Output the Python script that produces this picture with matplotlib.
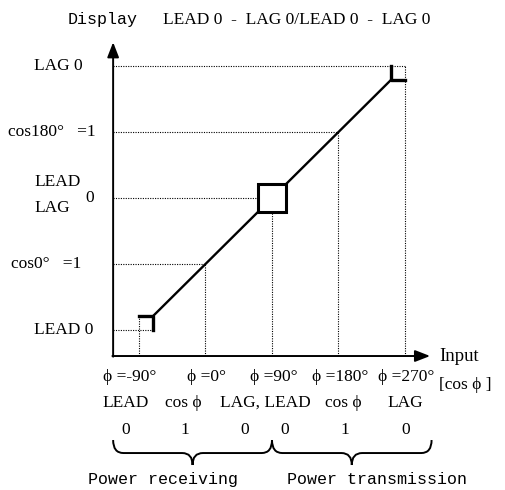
import matplotlib
matplotlib.use('Agg')
import matplotlib.pyplot as plt
from matplotlib.path import Path
from matplotlib.patches import PathPatch, Rectangle

# Input phase (deg) and the display level each one maps to
phase_deg = [-90, 0, 90, 180, 270]
display_level = [0, 1, 2, 3, 4]
level_labels = ['LEAD 0', 'cos0°   =1', '0', 'cos180°   =1', 'LAG 0']
phase_labels = ['ϕ =-90°', 'ϕ =0°', 'ϕ =90°', 'ϕ =180°', 'ϕ =270°']
pf_names = ['LEAD', 'cos ϕ', 'LAG, LEAD', 'cos ϕ', 'LAG']
pf_values = ['0', '1', '0', '0', '1', '0']
side_names = ['Power receiving', 'Power transmission']

dead = 19          # dead band at the ends / middle (deg)
x0, y0 = -125, -0.394   # axis origin

SERIF = 'Liberation Serif'
MONO = 'Liberation Mono'

fig = plt.figure(figsize=(5.06, 4.90), dpi=100)
ax = fig.add_axes([0, 0, 1, 1])
ax.set_xlim(-278.1, 406.7)
ax.set_ylim(-2.424, 5.0)
ax.set_axis_off()


def lvl(p):
    return (p + 90) / 90.0


# dotted guide lines
dot = dict(color='black', lw=0.8, linestyle=(0, (1, 1.2)))
h_stop = [phase_deg[0] + dead, phase_deg[1], phase_deg[2] - dead, phase_deg[3], phase_deg[4]]
v_stop = [lvl(phase_deg[0] + dead), 1, lvl(phase_deg[2] - dead), 3, 4]
for p, l, hs, vs in zip(phase_deg, display_level, h_stop, v_stop):
    ax.plot([x0, hs], [l, l], **dot)
    ax.plot([p, p], [y0, vs], **dot)

# characteristic line with dead bands
k = dict(color='black', lw=1.7, solid_capstyle='butt')
a = phase_deg[0] + dead
b = phase_deg[2] - dead
c = phase_deg[2] + dead
d = phase_deg[4] - dead
ax.plot([a, b], [lvl(a), lvl(b)], **k)
ax.plot([c, d], [lvl(c), lvl(d)], **k)
ax.plot([phase_deg[0], a, a], [lvl(a), lvl(a), display_level[0]], color='black', lw=2.4)
ax.plot([d, d, phase_deg[4]], [display_level[4], lvl(d), lvl(d)], color='black', lw=2.4)
ax.add_patch(Rectangle((b, lvl(b)), c - b, lvl(c) - lvl(b), fill=False, ec='black', lw=2.2))

# axes with arrows
arr = dict(arrowstyle='-|>,head_length=0.9,head_width=0.35', color='black', lw=1.4, shrinkA=0, shrinkB=0)
ax.annotate('', xy=(304, y0), xytext=(x0 - 1, y0), arrowprops=arr)
ax.annotate('', xy=(x0, 4.36), xytext=(x0, y0 - 0.01), arrowprops=arr)

fs = 12.5
ax.text(-186, 4.70, 'Display', family=MONO, fontsize=12, va='center')
ax.text(-57.5, 4.70, 'LEAD 0  -  LAG 0/LEAD 0  -  LAG 0', family=SERIF, fontsize=fs, va='center')
ax.text(317, y0, 'Input', family=SERIF, fontsize=fs + 1, va='center')
ax.text(316, -0.83, '[cos ϕ ]', family=SERIF, fontsize=fs, va='center')

# y side labels
ly_x = [-232, -263, -163, -267, -232]
for t, l, lx in zip(level_labels, display_level, ly_x):
    ax.text(lx, l, t, family=SERIF, fontsize=fs, va='center')
ax.text(-232, 2.24, 'LEAD', family=SERIF, fontsize=fs, va='center')
ax.text(-232, 1.85, 'LAG', family=SERIF, fontsize=fs, va='center')

# x side labels
for p, t in zip(phase_deg, phase_labels):
    off = -12 if p == phase_deg[0] else 2
    ax.text(p + off, -0.71, t, family=SERIF, fontsize=fs, ha='center', va='center')
name_x = [-107.6, -30.5, 80.5, 186, 271]
for nx, t in zip(name_x, pf_names):
    ax.text(nx, -1.106, t, family=SERIF, fontsize=fs, ha='center', va='center')
val_x = [-107.6, -27.7, 53.5, 107.6, 188.8, 271]
for vx, t in zip(val_x, pf_values):
    ax.text(vx, -1.515, t, family=SERIF, fontsize=fs, ha='center', va='center')


def brace(xa, xb, top=-1.667, mid=-1.864, tip=-2.045, r=14):
    xm = (xa + xb) / 2
    verts = [(xa, top), (xa, mid), (xa + r, mid), (xm - r, mid), (xm, mid), (xm, tip),
             (xm, tip), (xm, mid), (xm + r, mid), (xb - r, mid), (xb, mid), (xb, top)]
    codes = [Path.MOVETO, Path.CURVE3, Path.CURVE3, Path.LINETO, Path.CURVE3, Path.CURVE3,
             Path.MOVETO, Path.CURVE3, Path.CURVE3, Path.LINETO, Path.CURVE3, Path.CURVE3]
    ax.add_patch(PathPatch(Path(verts, codes), fill=False, lw=1.4, ec='black'))


spans = [(x0, 90), (90, 306)]
name_left = [-159, 110]
for (xa, xb), t, nl in zip(spans, side_names, name_left):
    brace(xa, xb)
    ax.text(nl, -2.27, t, family=MONO, fontsize=12, ha='left', va='center')

fig.savefig('out.png', dpi=100)
